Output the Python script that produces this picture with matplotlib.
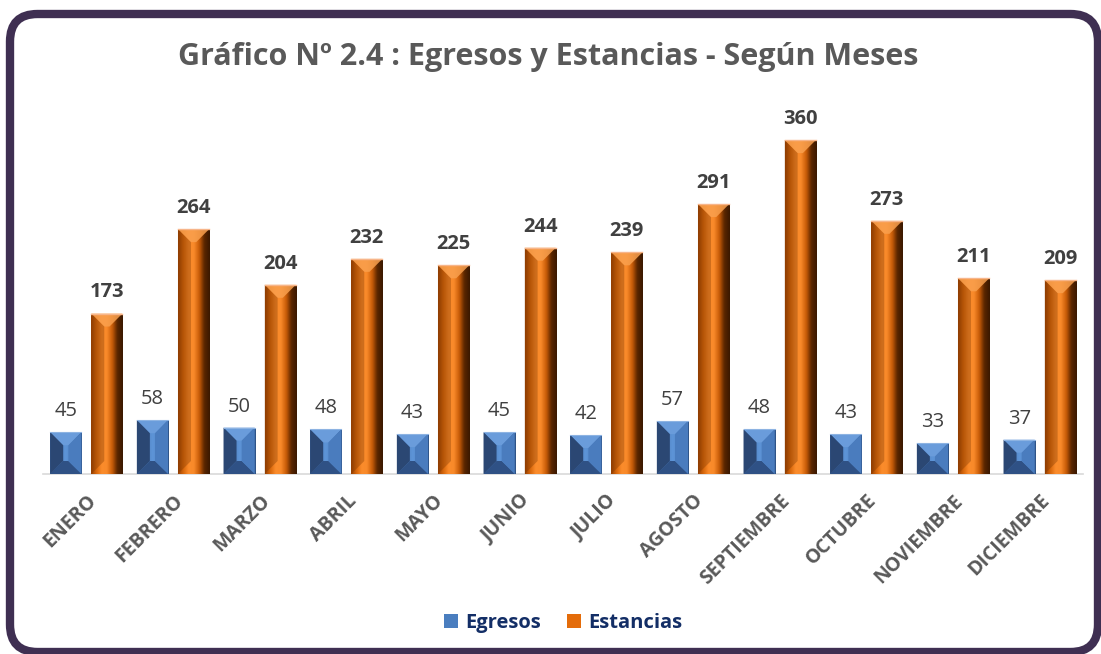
import matplotlib
matplotlib.use("Agg")
import matplotlib.pyplot as plt
import numpy as np
from matplotlib.patches import FancyBboxPatch, Polygon
from matplotlib.colors import LinearSegmentedColormap

months = ["ENERO", "FEBRERO", "MARZO", "ABRIL", "MAYO", "JUNIO", "JULIO",
          "AGOSTO", "SEPTIEMBRE", "OCTUBRE", "NOVIEMBRE", "DICIEMBRE"]
egresos = [45, 58, 50, 48, 43, 45, 42, 57, 48, 43, 33, 37]
estancias = [173, 264, 204, 232, 225, 244, 239, 291, 360, 273, 211, 209]
title = "Gráfico Nº 2.4 : Egresos y Estancias - Según Meses"
series_names = ["Egresos", "Estancias"]

W, H, DPI = 1101, 654, 100
fig = plt.figure(figsize=(W / DPI, H / DPI), dpi=DPI)
fig.patch.set_facecolor("white")

# rounded border
border = FancyBboxPatch((10 / W, 1 - 652 / H), (1098 - 10) / W, (652 - 14) / H,
                        boxstyle="round,pad=0,rounding_size=0.025",
                        transform=fig.transFigure, facecolor="none",
                        edgecolor="#3F2F52", linewidth=6, zorder=-1,
                        mutation_aspect=W / H)
fig.patches.append(border)

ax_l, ax_r, ax_b, ax_t = 43, 1083, 474, 103
ax = fig.add_axes([ax_l / W, 1 - ax_b / H, (ax_r - ax_l) / W, (ax_b - ax_t) / H])
ax.set_facecolor("none")
for s in ["left", "right", "top"]:
    ax.spines[s].set_visible(False)
ax.spines["bottom"].set_color("#D9D9D9")
ax.spines["bottom"].set_linewidth(1.2)
ax.set_yticks([])
ax.tick_params(axis="x", length=0, pad=12)

x = np.arange(len(months))
bw = 0.36
off = 0.237
b1 = ax.bar(x - off, egresos, bw, color="#4A7EBF", zorder=2)
b2 = ax.bar(x + off, estancias, bw, color="#E46C0A", zorder=2)

px_x = (ax_r - ax_l) / 12.0
px_y = (ax_b - ax_t) / 400.0

orange_cmap = LinearSegmentedColormap.from_list(
    "org", ["#9A4203", "#D9680C", "#FB8C2C", "#F98A2A", "#C85C08", "#5A2600", "#3A1800"])
blue_cmap = LinearSegmentedColormap.from_list(
    "blu", ["#3E6AA6", "#4F82C2", "#5E95D8", "#4A7CBB", "#2E5286"])


def bevel(rect, faces, bev_px=12):
    x0 = rect.get_x(); x1 = x0 + rect.get_width()
    y0 = 0; y1 = rect.get_height()
    wpx = rect.get_width() * px_x
    hpx = y1 * px_y
    bxp = min(bev_px, wpx * 0.42)
    byp = min(bev_px, hpx / 2.0)
    bx = bxp / px_x
    by = byp / px_y
    top, left, right, bottom = faces
    polys = [
        ([(x0, y1), (x1, y1), (x1 - bx, y1 - by), (x0 + bx, y1 - by)], top),
        ([(x0, y0), (x1, y0), (x1 - bx, y0 + by), (x0 + bx, y0 + by)], bottom),
        ([(x0, y1), (x0 + bx, y1 - by), (x0 + bx, y0 + by), (x0, y0)], left),
        ([(x1, y1), (x1 - bx, y1 - by), (x1 - bx, y0 + by), (x1, y0)], right),
    ]
    for pts, (col, a) in polys:
        ax.add_patch(Polygon(pts, closed=True, facecolor=col, alpha=a,
                             edgecolor="none", zorder=4))


grad = np.linspace(0, 1, 64).reshape(1, -1)
for r in b2:
    x0 = r.get_x(); x1 = x0 + r.get_width(); h = r.get_height()
    im = ax.imshow(grad, cmap=orange_cmap, extent=(x0, x1, 0, h),
                   aspect="auto", zorder=3, interpolation="bicubic")
    im.set_clip_path(r)
    bevel(r, [("#F9A04E", 0.85), ("#7A3500", 0.35),
              ("#000000", 0.0), ("#000000", 0.0)], bev_px=13)
    ax.plot([x0, x1], [h, h], color="#F7B58A", lw=1.0, zorder=5)

for r in b1:
    x0 = r.get_x(); x1 = x0 + r.get_width(); h = r.get_height()
    im = ax.imshow(grad, cmap=blue_cmap, extent=(x0, x1, 0, h),
                   aspect="auto", zorder=3, interpolation="bicubic")
    im.set_clip_path(r)
    bevel(r, [("#6A9CDB", 1.0), ("#2B4773", 1.0),
              ("#4A7CBE", 1.0), ("#2F5185", 1.0)], bev_px=13)
    ax.plot([x0, x1], [h, h], color="#8DB3E2", lw=0.8, zorder=5)

ax.set_xlim(-0.5, 11.5)
ax.set_ylim(0, 400)

# data labels
for xi, v in zip(x - off, egresos):
    ax.annotate(str(v), (xi, v), xytext=(0, 8), textcoords="offset points",
                ha="center", va="bottom", fontsize=14.5, color="#404040",
                family="Open Sans")
for xi, v in zip(x + off, estancias):
    ax.annotate(str(v), (xi, v), xytext=(0, 8), textcoords="offset points",
                ha="center", va="bottom", fontsize=14.5, color="#404040",
                fontweight="bold", family="Open Sans")

ax.set_xticks(x)
ax.set_xticklabels(months, rotation=45, ha="right", rotation_mode="anchor",
                   fontsize=14, fontweight="bold", color="#595959",
                   family="Open Sans")

fig.text(548 / W, 1 - 57 / H, title, ha="center", va="center", fontsize=22,
         fontweight="bold", color="#595959", family="Open Sans")

# legend
leg = ax.legend([b1, b2], series_names, loc="center", ncol=2,
                bbox_to_anchor=(0.5, -(623 - 474) / (474 - 103)),
                frameon=False, handlelength=0.7, handleheight=0.7,
                handletextpad=0.35, columnspacing=1.3,
                prop={"family": "Open Sans", "weight": "bold", "size": 14.5})
for t in leg.get_texts():
    t.set_color("#132E66")

fig.savefig("out.png", dpi=DPI, facecolor="white")
